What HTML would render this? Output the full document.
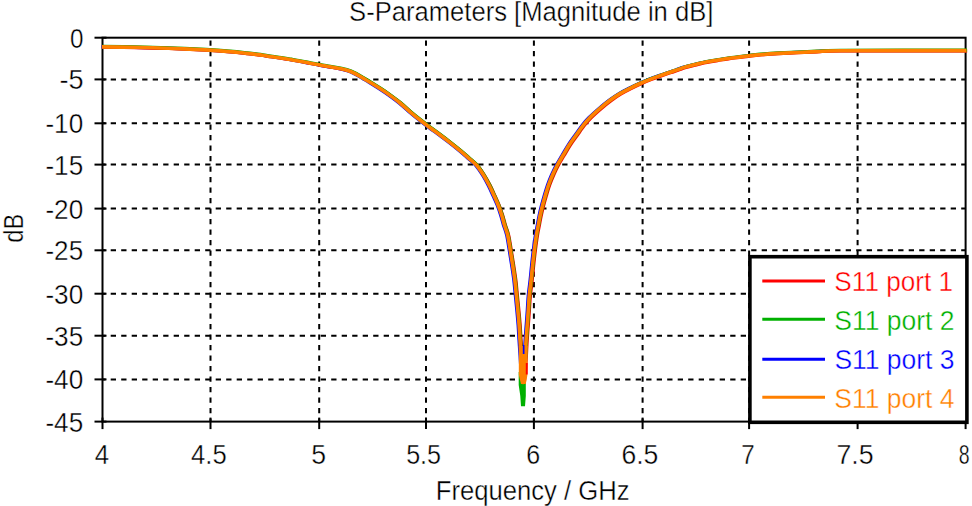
<!DOCTYPE html>
<html><head><meta charset="utf-8"><style>
html,body{margin:0;padding:0;background:#fff;width:972px;height:506px;overflow:hidden;position:relative;}
svg{position:absolute;left:0;top:0}
</style></head><body>
<svg width="972" height="506" viewBox="0 0 972 506" style="position:absolute;left:0;top:0">
<g id="lines">
<line x1="210.5" y1="37.7" x2="210.5" y2="421.6" stroke="#000" stroke-width="2" stroke-dasharray="5.3 5.2" stroke-dashoffset="-2.7"/>
<line x1="319.2" y1="37.7" x2="319.2" y2="421.6" stroke="#000" stroke-width="2" stroke-dasharray="5.3 5.2" stroke-dashoffset="-2.7"/>
<line x1="426" y1="37.7" x2="426" y2="421.6" stroke="#000" stroke-width="2" stroke-dasharray="5.3 5.2" stroke-dashoffset="-2.7"/>
<line x1="533.9" y1="37.7" x2="533.9" y2="421.6" stroke="#000" stroke-width="2" stroke-dasharray="5.3 5.2" stroke-dashoffset="-2.7"/>
<line x1="642.6" y1="37.7" x2="642.6" y2="421.6" stroke="#000" stroke-width="2" stroke-dasharray="5.3 5.2" stroke-dashoffset="-2.7"/>
<line x1="749.1" y1="37.7" x2="749.1" y2="421.6" stroke="#000" stroke-width="2" stroke-dasharray="5.3 5.2" stroke-dashoffset="-2.7"/>
<line x1="857.6" y1="37.7" x2="857.6" y2="421.6" stroke="#000" stroke-width="2" stroke-dasharray="5.3 5.2" stroke-dashoffset="-2.7"/>
<line x1="102.5" y1="79.4" x2="965.6" y2="79.4" stroke="#000" stroke-width="2" stroke-dasharray="5.3 5.2" stroke-dashoffset="2.3"/>
<line x1="102.5" y1="123.3" x2="965.6" y2="123.3" stroke="#000" stroke-width="2" stroke-dasharray="5.3 5.2" stroke-dashoffset="2.3"/>
<line x1="102.5" y1="164.6" x2="965.6" y2="164.6" stroke="#000" stroke-width="2" stroke-dasharray="5.3 5.2" stroke-dashoffset="2.3"/>
<line x1="102.5" y1="208.6" x2="965.6" y2="208.6" stroke="#000" stroke-width="2" stroke-dasharray="5.3 5.2" stroke-dashoffset="2.3"/>
<line x1="102.5" y1="250.3" x2="965.6" y2="250.3" stroke="#000" stroke-width="2" stroke-dasharray="5.3 5.2" stroke-dashoffset="2.3"/>
<line x1="102.5" y1="293.7" x2="965.6" y2="293.7" stroke="#000" stroke-width="2" stroke-dasharray="5.3 5.2" stroke-dashoffset="2.3"/>
<line x1="102.5" y1="335.7" x2="965.6" y2="335.7" stroke="#000" stroke-width="2" stroke-dasharray="5.3 5.2" stroke-dashoffset="2.3"/>
<line x1="102.5" y1="379.4" x2="965.6" y2="379.4" stroke="#000" stroke-width="2" stroke-dasharray="5.3 5.2" stroke-dashoffset="2.3"/>
<line x1="102.5" y1="417.6" x2="102.5" y2="429.1" stroke="#000" stroke-width="2"/>
<line x1="210.5" y1="417.6" x2="210.5" y2="429.1" stroke="#000" stroke-width="2"/>
<line x1="319.2" y1="417.6" x2="319.2" y2="429.1" stroke="#000" stroke-width="2"/>
<line x1="426" y1="417.6" x2="426" y2="429.1" stroke="#000" stroke-width="2"/>
<line x1="533.9" y1="417.6" x2="533.9" y2="429.1" stroke="#000" stroke-width="2"/>
<line x1="642.6" y1="417.6" x2="642.6" y2="429.1" stroke="#000" stroke-width="2"/>
<line x1="749.1" y1="417.6" x2="749.1" y2="429.1" stroke="#000" stroke-width="2"/>
<line x1="857.6" y1="417.6" x2="857.6" y2="429.1" stroke="#000" stroke-width="2"/>
<line x1="965.6" y1="417.6" x2="965.6" y2="429.1" stroke="#000" stroke-width="2"/>
<line x1="94.5" y1="37.7" x2="106.5" y2="37.7" stroke="#000" stroke-width="2"/>
<line x1="94.5" y1="79.4" x2="106.5" y2="79.4" stroke="#000" stroke-width="2"/>
<line x1="94.5" y1="123.3" x2="106.5" y2="123.3" stroke="#000" stroke-width="2"/>
<line x1="94.5" y1="164.6" x2="106.5" y2="164.6" stroke="#000" stroke-width="2"/>
<line x1="94.5" y1="208.6" x2="106.5" y2="208.6" stroke="#000" stroke-width="2"/>
<line x1="94.5" y1="250.3" x2="106.5" y2="250.3" stroke="#000" stroke-width="2"/>
<line x1="94.5" y1="293.7" x2="106.5" y2="293.7" stroke="#000" stroke-width="2"/>
<line x1="94.5" y1="335.7" x2="106.5" y2="335.7" stroke="#000" stroke-width="2"/>
<line x1="94.5" y1="379.4" x2="106.5" y2="379.4" stroke="#000" stroke-width="2"/>
<line x1="94.5" y1="421.6" x2="106.5" y2="421.6" stroke="#000" stroke-width="2"/>
<rect x="102.5" y="37.7" width="863.1" height="383.9" fill="none" stroke="#000" stroke-width="2"/>
<clipPath id="pc"><rect x="101.3" y="30" width="866" height="392"/></clipPath>
<g clip-path="url(#pc)"><path d="M101.50,46.90 C107.08,46.97 123.92,47.08 135.00,47.30 C146.08,47.52 156.25,47.77 168.00,48.20 C179.75,48.63 195.23,49.33 205.50,49.90 C215.77,50.47 222.68,51.02 229.60,51.60 C236.52,52.18 241.93,52.81 247.00,53.35 C252.07,53.89 256.17,54.33 260.00,54.85 C263.83,55.37 266.50,55.93 270.00,56.45 C273.50,56.98 277.50,57.47 281.00,58.00 C284.50,58.53 287.83,59.12 291.00,59.65 C294.17,60.18 296.83,60.61 300.00,61.20 C303.17,61.79 306.67,62.55 310.00,63.20 C313.33,63.85 316.67,64.50 320.00,65.10 C323.33,65.70 326.67,66.22 330.00,66.80 C333.33,67.38 336.67,67.85 340.00,68.60 C343.33,69.35 346.67,70.02 350.00,71.30 C353.33,72.58 356.67,74.47 360.00,76.30 C363.33,78.13 366.67,80.25 370.00,82.30 C373.33,84.35 376.67,86.42 380.00,88.60 C383.33,90.78 386.67,93.00 390.00,95.40 C393.33,97.80 396.67,100.27 400.00,103.00 C403.33,105.73 406.67,108.97 410.00,111.80 C413.33,114.63 416.67,117.35 420.00,120.00 C423.33,122.65 426.67,125.20 430.00,127.70 C433.33,130.20 436.67,132.52 440.00,135.00 C443.33,137.48 446.67,140.00 450.00,142.60 C453.33,145.20 457.00,148.10 460.00,150.60 C463.00,153.10 465.28,155.20 468.00,157.60 C470.72,160.00 473.73,162.10 476.30,165.00 C478.87,167.90 481.28,171.67 483.40,175.00 C485.52,178.33 487.28,181.67 489.00,185.00 C490.72,188.33 492.18,191.67 493.70,195.00 C495.22,198.33 496.78,201.67 498.10,205.00 C499.42,208.33 500.55,211.67 501.60,215.00 C502.65,218.33 503.40,221.67 504.40,225.00 C505.40,228.33 506.63,230.83 507.60,235.00 C508.57,239.17 509.37,245.00 510.20,250.00 C511.03,255.00 511.83,260.00 512.60,265.00 C513.37,270.00 514.18,275.00 514.80,280.00 C515.42,285.00 515.80,290.00 516.30,295.00 C516.80,300.00 517.33,305.00 517.80,310.00 C518.27,315.00 518.73,320.00 519.10,325.00 C519.47,330.00 519.68,335.00 520.00,340.00 C520.32,345.00 520.67,350.00 521.00,355.00 C521.33,360.00 521.63,365.42 522.00,370.00 C522.37,374.58 523.00,380.42 523.20,382.50 L523.20,382.50 C523.40,380.42 524.05,374.58 524.40,370.00 C524.75,365.42 525.02,360.00 525.30,355.00 C525.58,350.00 525.78,345.00 526.10,340.00 C526.42,335.00 526.83,330.00 527.20,325.00 C527.57,320.00 527.95,315.00 528.30,310.00 C528.65,305.00 528.83,300.00 529.30,295.00 C529.77,290.00 530.55,285.00 531.10,280.00 C531.65,275.00 532.07,270.00 532.60,265.00 C533.13,260.00 533.67,255.00 534.30,250.00 C534.93,245.00 535.73,239.17 536.40,235.00 C537.07,230.83 537.67,228.33 538.30,225.00 C538.93,221.67 539.48,218.33 540.20,215.00 C540.92,211.67 541.73,208.33 542.60,205.00 C543.47,201.67 544.42,198.33 545.40,195.00 C546.38,191.67 547.32,188.33 548.50,185.00 C549.68,181.67 551.03,178.33 552.50,175.00 C553.97,171.67 555.52,168.33 557.30,165.00 C559.08,161.67 561.23,158.33 563.20,155.00 C565.17,151.67 566.93,148.33 569.10,145.00 C571.27,141.67 573.82,138.33 576.20,135.00 C578.58,131.67 581.10,127.92 583.40,125.00 C585.70,122.08 587.23,120.27 590.00,117.50 C592.77,114.73 596.67,111.27 600.00,108.40 C603.33,105.53 606.67,102.77 610.00,100.30 C613.33,97.83 616.67,95.60 620.00,93.60 C623.33,91.60 626.67,89.98 630.00,88.30 C633.33,86.62 636.67,85.00 640.00,83.50 C643.33,82.00 646.67,80.62 650.00,79.30 C653.33,77.98 656.67,76.78 660.00,75.60 C663.33,74.42 667.17,73.15 670.00,72.20 C672.83,71.25 674.67,70.70 677.00,69.90 C679.33,69.10 681.67,68.12 684.00,67.40 C686.33,66.68 688.67,66.15 691.00,65.55 C693.33,64.95 695.50,64.38 698.00,63.80 C700.50,63.22 702.92,62.63 706.00,62.05 C709.08,61.47 712.92,60.89 716.50,60.30 C720.08,59.71 723.42,59.08 727.50,58.50 C731.58,57.92 736.42,57.42 741.00,56.85 C745.58,56.28 748.83,55.68 755.00,55.10 C761.17,54.52 767.83,53.98 778.00,53.40 C788.17,52.82 805.67,52.05 816.00,51.60 C826.33,51.15 814.92,50.87 840.00,50.70 C865.08,50.53 945.42,50.62 966.50,50.60" transform="translate(-1.0,0)" fill="none" stroke="#0000ff" stroke-width="3.2" stroke-linejoin="round"/>
<path d="M101.50,46.90 C107.08,46.97 123.92,47.08 135.00,47.30 C146.08,47.52 156.25,47.77 168.00,48.20 C179.75,48.63 195.23,49.33 205.50,49.90 C215.77,50.47 222.68,51.02 229.60,51.60 C236.52,52.18 241.93,52.81 247.00,53.35 C252.07,53.89 256.17,54.33 260.00,54.85 C263.83,55.37 266.50,55.93 270.00,56.45 C273.50,56.98 277.50,57.47 281.00,58.00 C284.50,58.53 287.83,59.12 291.00,59.65 C294.17,60.18 296.83,60.61 300.00,61.20 C303.17,61.79 306.67,62.55 310.00,63.20 C313.33,63.85 316.67,64.50 320.00,65.10 C323.33,65.70 326.67,66.22 330.00,66.80 C333.33,67.38 336.67,67.85 340.00,68.60 C343.33,69.35 346.67,70.02 350.00,71.30 C353.33,72.58 356.67,74.47 360.00,76.30 C363.33,78.13 366.67,80.25 370.00,82.30 C373.33,84.35 376.67,86.42 380.00,88.60 C383.33,90.78 386.67,93.00 390.00,95.40 C393.33,97.80 396.67,100.27 400.00,103.00 C403.33,105.73 406.67,108.97 410.00,111.80 C413.33,114.63 416.67,117.35 420.00,120.00 C423.33,122.65 426.67,125.20 430.00,127.70 C433.33,130.20 436.67,132.52 440.00,135.00 C443.33,137.48 446.67,140.00 450.00,142.60 C453.33,145.20 457.00,148.10 460.00,150.60 C463.00,153.10 465.28,155.20 468.00,157.60 C470.72,160.00 473.73,162.10 476.30,165.00 C478.87,167.90 481.28,171.67 483.40,175.00 C485.52,178.33 487.28,181.67 489.00,185.00 C490.72,188.33 492.18,191.67 493.70,195.00 C495.22,198.33 496.78,201.67 498.10,205.00 C499.42,208.33 500.55,211.67 501.60,215.00 C502.65,218.33 503.40,221.67 504.40,225.00 C505.40,228.33 506.63,230.83 507.60,235.00 C508.57,239.17 509.37,245.00 510.20,250.00 C511.03,255.00 511.83,260.00 512.60,265.00 C513.37,270.00 514.18,275.00 514.80,280.00 C515.42,285.00 515.80,290.00 516.30,295.00 C516.80,300.00 517.33,305.00 517.80,310.00 C518.27,315.00 518.73,320.00 519.10,325.00 C519.47,330.00 519.68,335.00 520.00,340.00 C520.32,345.00 520.67,350.00 521.00,355.00 C521.33,360.00 521.63,365.42 522.00,370.00 C522.37,374.58 523.00,380.42 523.20,382.50 L523.20,382.50 C523.40,380.42 524.05,374.58 524.40,370.00 C524.75,365.42 525.02,360.00 525.30,355.00 C525.58,350.00 525.78,345.00 526.10,340.00 C526.42,335.00 526.83,330.00 527.20,325.00 C527.57,320.00 527.95,315.00 528.30,310.00 C528.65,305.00 528.83,300.00 529.30,295.00 C529.77,290.00 530.55,285.00 531.10,280.00 C531.65,275.00 532.07,270.00 532.60,265.00 C533.13,260.00 533.67,255.00 534.30,250.00 C534.93,245.00 535.73,239.17 536.40,235.00 C537.07,230.83 537.67,228.33 538.30,225.00 C538.93,221.67 539.48,218.33 540.20,215.00 C540.92,211.67 541.73,208.33 542.60,205.00 C543.47,201.67 544.42,198.33 545.40,195.00 C546.38,191.67 547.32,188.33 548.50,185.00 C549.68,181.67 551.03,178.33 552.50,175.00 C553.97,171.67 555.52,168.33 557.30,165.00 C559.08,161.67 561.23,158.33 563.20,155.00 C565.17,151.67 566.93,148.33 569.10,145.00 C571.27,141.67 573.82,138.33 576.20,135.00 C578.58,131.67 581.10,127.92 583.40,125.00 C585.70,122.08 587.23,120.27 590.00,117.50 C592.77,114.73 596.67,111.27 600.00,108.40 C603.33,105.53 606.67,102.77 610.00,100.30 C613.33,97.83 616.67,95.60 620.00,93.60 C623.33,91.60 626.67,89.98 630.00,88.30 C633.33,86.62 636.67,85.00 640.00,83.50 C643.33,82.00 646.67,80.62 650.00,79.30 C653.33,77.98 656.67,76.78 660.00,75.60 C663.33,74.42 667.17,73.15 670.00,72.20 C672.83,71.25 674.67,70.70 677.00,69.90 C679.33,69.10 681.67,68.12 684.00,67.40 C686.33,66.68 688.67,66.15 691.00,65.55 C693.33,64.95 695.50,64.38 698.00,63.80 C700.50,63.22 702.92,62.63 706.00,62.05 C709.08,61.47 712.92,60.89 716.50,60.30 C720.08,59.71 723.42,59.08 727.50,58.50 C731.58,57.92 736.42,57.42 741.00,56.85 C745.58,56.28 748.83,55.68 755.00,55.10 C761.17,54.52 767.83,53.98 778.00,53.40 C788.17,52.82 805.67,52.05 816.00,51.60 C826.33,51.15 814.92,50.87 840.00,50.70 C865.08,50.53 945.42,50.62 966.50,50.60" transform="translate(1.1,0.3)" fill="none" stroke="#ff0000" stroke-width="3.2" stroke-linejoin="round"/>
<path d="M101.50,46.90 C107.08,46.97 123.92,47.08 135.00,47.30 C146.08,47.52 156.25,47.77 168.00,48.20 C179.75,48.63 195.23,49.33 205.50,49.90 C215.77,50.47 222.68,51.02 229.60,51.60 C236.52,52.18 241.93,52.81 247.00,53.35 C252.07,53.89 256.17,54.33 260.00,54.85 C263.83,55.37 266.50,55.93 270.00,56.45 C273.50,56.98 277.50,57.47 281.00,58.00 C284.50,58.53 287.83,59.12 291.00,59.65 C294.17,60.18 296.83,60.61 300.00,61.20 C303.17,61.79 306.67,62.55 310.00,63.20 C313.33,63.85 316.67,64.50 320.00,65.10 C323.33,65.70 326.67,66.22 330.00,66.80 C333.33,67.38 336.67,67.85 340.00,68.60 C343.33,69.35 346.67,70.02 350.00,71.30 C353.33,72.58 356.67,74.47 360.00,76.30 C363.33,78.13 366.67,80.25 370.00,82.30 C373.33,84.35 376.67,86.42 380.00,88.60 C383.33,90.78 386.67,93.00 390.00,95.40 C393.33,97.80 396.67,100.27 400.00,103.00 C403.33,105.73 406.67,108.97 410.00,111.80 C413.33,114.63 416.67,117.35 420.00,120.00 C423.33,122.65 426.67,125.20 430.00,127.70 C433.33,130.20 436.67,132.52 440.00,135.00 C443.33,137.48 446.67,140.00 450.00,142.60 C453.33,145.20 457.00,148.10 460.00,150.60 C463.00,153.10 465.28,155.20 468.00,157.60 C470.72,160.00 473.73,162.10 476.30,165.00 C478.87,167.90 481.28,171.67 483.40,175.00 C485.52,178.33 487.28,181.67 489.00,185.00 C490.72,188.33 492.18,191.67 493.70,195.00 C495.22,198.33 496.78,201.67 498.10,205.00 C499.42,208.33 500.55,211.67 501.60,215.00 C502.65,218.33 503.40,221.67 504.40,225.00 C505.40,228.33 506.63,230.83 507.60,235.00 C508.57,239.17 509.37,245.00 510.20,250.00 C511.03,255.00 511.83,260.00 512.60,265.00 C513.37,270.00 514.18,275.00 514.80,280.00 C515.42,285.00 515.80,290.00 516.30,295.00 C516.80,300.00 517.33,305.00 517.80,310.00 C518.27,315.00 518.73,320.00 519.10,325.00 C519.47,330.00 519.68,335.00 520.00,340.00 C520.32,345.00 520.67,350.00 521.00,355.00 C521.33,360.00 521.63,365.42 522.00,370.00 C522.37,374.58 523.00,380.42 523.20,382.50 L523.20,382.50 C523.40,380.42 524.05,374.58 524.40,370.00 C524.75,365.42 525.02,360.00 525.30,355.00 C525.58,350.00 525.78,345.00 526.10,340.00 C526.42,335.00 526.83,330.00 527.20,325.00 C527.57,320.00 527.95,315.00 528.30,310.00 C528.65,305.00 528.83,300.00 529.30,295.00 C529.77,290.00 530.55,285.00 531.10,280.00 C531.65,275.00 532.07,270.00 532.60,265.00 C533.13,260.00 533.67,255.00 534.30,250.00 C534.93,245.00 535.73,239.17 536.40,235.00 C537.07,230.83 537.67,228.33 538.30,225.00 C538.93,221.67 539.48,218.33 540.20,215.00 C540.92,211.67 541.73,208.33 542.60,205.00 C543.47,201.67 544.42,198.33 545.40,195.00 C546.38,191.67 547.32,188.33 548.50,185.00 C549.68,181.67 551.03,178.33 552.50,175.00 C553.97,171.67 555.52,168.33 557.30,165.00 C559.08,161.67 561.23,158.33 563.20,155.00 C565.17,151.67 566.93,148.33 569.10,145.00 C571.27,141.67 573.82,138.33 576.20,135.00 C578.58,131.67 581.10,127.92 583.40,125.00 C585.70,122.08 587.23,120.27 590.00,117.50 C592.77,114.73 596.67,111.27 600.00,108.40 C603.33,105.53 606.67,102.77 610.00,100.30 C613.33,97.83 616.67,95.60 620.00,93.60 C623.33,91.60 626.67,89.98 630.00,88.30 C633.33,86.62 636.67,85.00 640.00,83.50 C643.33,82.00 646.67,80.62 650.00,79.30 C653.33,77.98 656.67,76.78 660.00,75.60 C663.33,74.42 667.17,73.15 670.00,72.20 C672.83,71.25 674.67,70.70 677.00,69.90 C679.33,69.10 681.67,68.12 684.00,67.40 C686.33,66.68 688.67,66.15 691.00,65.55 C693.33,64.95 695.50,64.38 698.00,63.80 C700.50,63.22 702.92,62.63 706.00,62.05 C709.08,61.47 712.92,60.89 716.50,60.30 C720.08,59.71 723.42,59.08 727.50,58.50 C731.58,57.92 736.42,57.42 741.00,56.85 C745.58,56.28 748.83,55.68 755.00,55.10 C761.17,54.52 767.83,53.98 778.00,53.40 C788.17,52.82 805.67,52.05 816.00,51.60 C826.33,51.15 814.92,50.87 840.00,50.70 C865.08,50.53 945.42,50.62 966.50,50.60" transform="translate(0.5,-0.45)" fill="none" stroke="#00b000" stroke-width="3.2" stroke-linejoin="round"/>
<polygon points="518.7,372 525.8,372 525.8,396 525,406.3 521,406.3 520.3,396 518.7,385" fill="#00b000"/>
<path d="M101.50,46.90 C107.08,46.97 123.92,47.08 135.00,47.30 C146.08,47.52 156.25,47.77 168.00,48.20 C179.75,48.63 195.23,49.33 205.50,49.90 C215.77,50.47 222.68,51.02 229.60,51.60 C236.52,52.18 241.93,52.81 247.00,53.35 C252.07,53.89 256.17,54.33 260.00,54.85 C263.83,55.37 266.50,55.93 270.00,56.45 C273.50,56.98 277.50,57.47 281.00,58.00 C284.50,58.53 287.83,59.12 291.00,59.65 C294.17,60.18 296.83,60.61 300.00,61.20 C303.17,61.79 306.67,62.55 310.00,63.20 C313.33,63.85 316.67,64.50 320.00,65.10 C323.33,65.70 326.67,66.22 330.00,66.80 C333.33,67.38 336.67,67.85 340.00,68.60 C343.33,69.35 346.67,70.02 350.00,71.30 C353.33,72.58 356.67,74.47 360.00,76.30 C363.33,78.13 366.67,80.25 370.00,82.30 C373.33,84.35 376.67,86.42 380.00,88.60 C383.33,90.78 386.67,93.00 390.00,95.40 C393.33,97.80 396.67,100.27 400.00,103.00 C403.33,105.73 406.67,108.97 410.00,111.80 C413.33,114.63 416.67,117.35 420.00,120.00 C423.33,122.65 426.67,125.20 430.00,127.70 C433.33,130.20 436.67,132.52 440.00,135.00 C443.33,137.48 446.67,140.00 450.00,142.60 C453.33,145.20 457.00,148.10 460.00,150.60 C463.00,153.10 465.28,155.20 468.00,157.60 C470.72,160.00 473.73,162.10 476.30,165.00 C478.87,167.90 481.28,171.67 483.40,175.00 C485.52,178.33 487.28,181.67 489.00,185.00 C490.72,188.33 492.18,191.67 493.70,195.00 C495.22,198.33 496.78,201.67 498.10,205.00 C499.42,208.33 500.55,211.67 501.60,215.00 C502.65,218.33 503.40,221.67 504.40,225.00 C505.40,228.33 506.63,230.83 507.60,235.00 C508.57,239.17 509.37,245.00 510.20,250.00 C511.03,255.00 511.83,260.00 512.60,265.00 C513.37,270.00 514.18,275.00 514.80,280.00 C515.42,285.00 515.80,290.00 516.30,295.00 C516.80,300.00 517.33,305.00 517.80,310.00 C518.27,315.00 518.73,320.00 519.10,325.00 C519.47,330.00 519.68,335.00 520.00,340.00 C520.32,345.00 520.67,350.00 521.00,355.00 C521.33,360.00 521.63,365.42 522.00,370.00 C522.37,374.58 523.00,380.42 523.20,382.50 L523.20,382.50 C523.40,380.42 524.05,374.58 524.40,370.00 C524.75,365.42 525.02,360.00 525.30,355.00 C525.58,350.00 525.78,345.00 526.10,340.00 C526.42,335.00 526.83,330.00 527.20,325.00 C527.57,320.00 527.95,315.00 528.30,310.00 C528.65,305.00 528.83,300.00 529.30,295.00 C529.77,290.00 530.55,285.00 531.10,280.00 C531.65,275.00 532.07,270.00 532.60,265.00 C533.13,260.00 533.67,255.00 534.30,250.00 C534.93,245.00 535.73,239.17 536.40,235.00 C537.07,230.83 537.67,228.33 538.30,225.00 C538.93,221.67 539.48,218.33 540.20,215.00 C540.92,211.67 541.73,208.33 542.60,205.00 C543.47,201.67 544.42,198.33 545.40,195.00 C546.38,191.67 547.32,188.33 548.50,185.00 C549.68,181.67 551.03,178.33 552.50,175.00 C553.97,171.67 555.52,168.33 557.30,165.00 C559.08,161.67 561.23,158.33 563.20,155.00 C565.17,151.67 566.93,148.33 569.10,145.00 C571.27,141.67 573.82,138.33 576.20,135.00 C578.58,131.67 581.10,127.92 583.40,125.00 C585.70,122.08 587.23,120.27 590.00,117.50 C592.77,114.73 596.67,111.27 600.00,108.40 C603.33,105.53 606.67,102.77 610.00,100.30 C613.33,97.83 616.67,95.60 620.00,93.60 C623.33,91.60 626.67,89.98 630.00,88.30 C633.33,86.62 636.67,85.00 640.00,83.50 C643.33,82.00 646.67,80.62 650.00,79.30 C653.33,77.98 656.67,76.78 660.00,75.60 C663.33,74.42 667.17,73.15 670.00,72.20 C672.83,71.25 674.67,70.70 677.00,69.90 C679.33,69.10 681.67,68.12 684.00,67.40 C686.33,66.68 688.67,66.15 691.00,65.55 C693.33,64.95 695.50,64.38 698.00,63.80 C700.50,63.22 702.92,62.63 706.00,62.05 C709.08,61.47 712.92,60.89 716.50,60.30 C720.08,59.71 723.42,59.08 727.50,58.50 C731.58,57.92 736.42,57.42 741.00,56.85 C745.58,56.28 748.83,55.68 755.00,55.10 C761.17,54.52 767.83,53.98 778.00,53.40 C788.17,52.82 805.67,52.05 816.00,51.60 C826.33,51.15 814.92,50.87 840.00,50.70 C865.08,50.53 945.42,50.62 966.50,50.60" fill="none" stroke="#ff8000" stroke-width="3.6" stroke-linejoin="round"/>
<polygon points="518.8,346 527.6,346 527.4,375 525.8,384 521,384 518.8,375" fill="#ff8000"/>
<rect x="525.8" y="363" width="1.9" height="11.5" fill="#ff0000"/>
<rect x="522.8" y="345" width="1.7" height="9" fill="#0000ff"/></g>
<rect x="749.9" y="256.7" width="217" height="165.6" fill="#fff" stroke="#000" stroke-width="3.6"/>
<line x1="762.3" y1="281" x2="825" y2="281" stroke="#ff0000" stroke-width="3.1"/>
<line x1="762.3" y1="319.3" x2="825" y2="319.3" stroke="#00b000" stroke-width="3.1"/>
<line x1="762.3" y1="359.3" x2="825" y2="359.3" stroke="#0000ff" stroke-width="3.1"/>
<line x1="762.3" y1="397.2" x2="825" y2="397.2" stroke="#ff8000" stroke-width="3.1"/>
</g>
<g font-family='"Liberation Sans", sans-serif' font-size="26.5" stroke="#fff" stroke-width="0.45" stroke-opacity="0.9">
<text id="x4" x="94.67" y="463.90" textLength="14.36" lengthAdjust="spacingAndGlyphs" font-size="27.5" fill="#000">4</text>
<text id="x4.5" x="191.09" y="463.90" textLength="35.64" lengthAdjust="spacingAndGlyphs" font-size="27.5" fill="#000">4.5</text>
<text id="x5" x="311.21" y="463.90" textLength="14.84" lengthAdjust="spacingAndGlyphs" font-size="27.5" fill="#000">5</text>
<text id="x5.5" x="406.13" y="463.90" textLength="34.94" lengthAdjust="spacingAndGlyphs" font-size="27.5" fill="#000">5.5</text>
<text id="x6" x="526.27" y="463.90" textLength="13.95" lengthAdjust="spacingAndGlyphs" font-size="27.5" fill="#000">6</text>
<text id="x6.5" x="621.42" y="463.90" textLength="36.98" lengthAdjust="spacingAndGlyphs" font-size="27.5" fill="#000">6.5</text>
<text id="x7" x="741.20" y="463.90" textLength="13.44" lengthAdjust="spacingAndGlyphs" font-size="27.5" fill="#000">7</text>
<text id="x7.5" x="836.40" y="463.90" textLength="37.20" lengthAdjust="spacingAndGlyphs" font-size="27.5" fill="#000">7.5</text>
<text id="x8" x="958.78" y="463.90" textLength="10.86" lengthAdjust="spacingAndGlyphs" font-size="27.5" fill="#000">8</text>
<text id="y0" x="69.92" y="47.60" textLength="13.46" lengthAdjust="spacingAndGlyphs" font-size="27.5" fill="#000">0</text>
<text id="y-5" x="59.56" y="89.30" textLength="24.08" lengthAdjust="spacingAndGlyphs" font-size="27.5" fill="#000">-5</text>
<text id="y-10" x="45.43" y="133.20" textLength="37.73" lengthAdjust="spacingAndGlyphs" font-size="27.5" fill="#000">-10</text>
<text id="y-15" x="45.43" y="174.50" textLength="37.73" lengthAdjust="spacingAndGlyphs" font-size="27.5" fill="#000">-15</text>
<text id="y-20" x="45.43" y="218.50" textLength="37.73" lengthAdjust="spacingAndGlyphs" font-size="27.5" fill="#000">-20</text>
<text id="y-25" x="45.43" y="260.20" textLength="37.73" lengthAdjust="spacingAndGlyphs" font-size="27.5" fill="#000">-25</text>
<text id="y-30" x="45.43" y="303.60" textLength="37.73" lengthAdjust="spacingAndGlyphs" font-size="27.5" fill="#000">-30</text>
<text id="y-35" x="45.43" y="345.60" textLength="37.73" lengthAdjust="spacingAndGlyphs" font-size="27.5" fill="#000">-35</text>
<text id="y-40" x="45.43" y="389.30" textLength="37.73" lengthAdjust="spacingAndGlyphs" font-size="27.5" fill="#000">-40</text>
<text id="y-45" x="45.43" y="431.50" textLength="37.73" lengthAdjust="spacingAndGlyphs" font-size="27.5" fill="#000">-45</text>
<text id="title" x="349.08" y="20.60" textLength="364.28" lengthAdjust="spacingAndGlyphs" font-size="27" fill="#000">S-Parameters [Magnitude in dB]</text>
<text id="freq" x="435.73" y="500.40" textLength="193.93" lengthAdjust="spacingAndGlyphs" font-size="27" fill="#000">Frequency / GHz</text>
<text id="dB" transform="rotate(-90)" x="-242.80" y="23.00" textLength="29.00" lengthAdjust="spacingAndGlyphs" font-size="27.5" fill="#000">dB</text>
<text id="leg1" x="834.35" y="291.20" textLength="118.72" lengthAdjust="spacingAndGlyphs" font-size="27" fill="#ff0000">S11 port 1</text>
<text id="leg2" x="834.35" y="329.60" textLength="120.15" lengthAdjust="spacingAndGlyphs" font-size="27" fill="#00b000">S11 port 2</text>
<text id="leg3" x="834.38" y="369.40" textLength="120.15" lengthAdjust="spacingAndGlyphs" font-size="27" fill="#0000ff">S11 port 3</text>
<text id="leg4" x="834.34" y="407.90" textLength="120.15" lengthAdjust="spacingAndGlyphs" font-size="27" fill="#ff8000">S11 port 4</text>
</g>
</svg>
</body></html>
